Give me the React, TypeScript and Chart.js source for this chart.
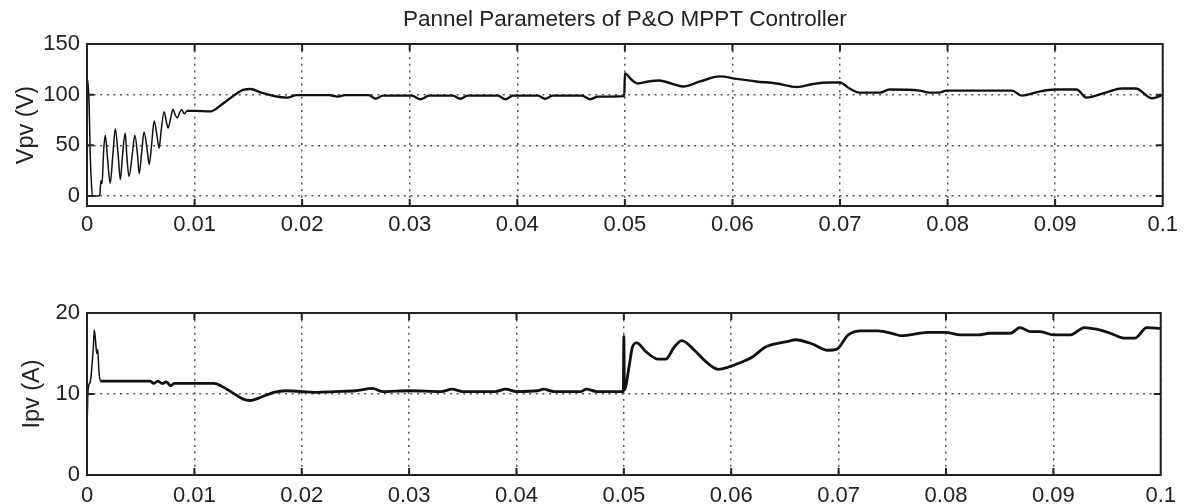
import React, { useEffect, useRef } from "react";
import { Chart, registerables } from "chart.js";

Chart.register(...registerables);

const FONT = "'Liberation Sans', Arial, Helvetica, sans-serif";
const titleText = "Pannel Parameters of P&O MPPT Controller";
const vLabel = "Vpv (V)";
const iLabel = "Ipv (A)";

const xTicks = [0, 0.01, 0.02, 0.03, 0.04, 0.05, 0.06, 0.07, 0.08, 0.09, 0.1];
const xTickLabels = ["0", "0.01", "0.02", "0.03", "0.04", "0.05", "0.06", "0.07", "0.08", "0.09", "0.1"];
const vTicks = [0, 50, 100, 150];
const iTicks = [0, 10, 20];

// Panel voltage (V) vs time (s)
const vTime = [
  0, 0.00005, 0.0002, 0.0003, 0.0004, 0.0005, 0.0011, 0.0012, 0.0013, 0.0014, 0.00155,
  0.0017, 0.0019, 0.00216, 0.0024, 0.00263, 0.0029, 0.0031, 0.0033, 0.00355, 0.0037,
  0.0039, 0.0042, 0.00445, 0.0047, 0.00485, 0.0051, 0.0053, 0.0056, 0.00578, 0.006,
  0.00624, 0.0065, 0.0067, 0.0069, 0.00717, 0.0074, 0.00754, 0.0078, 0.008, 0.0082,
  0.0084, 0.0086, 0.0088, 0.00905, 0.0093, 0.01, 0.0115, 0.0125, 0.0135, 0.0146,
  0.0152, 0.0162, 0.0174, 0.0186, 0.0195, 0.0225, 0.0233, 0.024, 0.0262, 0.0268,
  0.0275, 0.0302, 0.031, 0.0318, 0.034, 0.0347, 0.0354, 0.0382, 0.0389, 0.0396,
  0.0419, 0.0426, 0.0433, 0.046, 0.0468, 0.0475, 0.04995, 0.05, 0.0506, 0.0512,
  0.0522, 0.0532, 0.0543, 0.0554, 0.057, 0.0588, 0.0604, 0.0622, 0.0641, 0.066,
  0.0675, 0.069, 0.07, 0.0709, 0.0718, 0.0737, 0.0746, 0.0774, 0.0783, 0.0792,
  0.0799, 0.086, 0.0869, 0.0885, 0.09, 0.092, 0.0929, 0.0947, 0.0962, 0.0975,
  0.099, 0.1,
];
const vValues = [
  0, 115, 90, 40, 15, 0, 0, 2, 15, 12, 45,
  60, 38, 12.5, 40, 66, 40, 16, 40, 62, 40,
  19, 40, 60, 40, 22, 45, 63, 45, 31, 50,
  74, 60, 47, 65, 83, 72, 67, 78, 85.5, 80,
  77, 82, 85, 81, 84, 84, 83.5, 90, 98, 105,
  105.5, 102, 98.5, 97, 99.5, 99.5, 98, 99.5, 99.5, 96,
  99, 99, 95.5, 99, 99, 96, 99, 99, 95.5, 99,
  99, 96, 99, 99, 95.5, 98, 98.5, 121, 115, 111,
  113, 114, 111, 108, 113, 118, 115.5, 113, 111, 107.6,
  110.5, 112, 112, 106, 102, 102, 105, 104, 102, 102,
  104, 104, 99, 103, 105, 105, 97, 102, 106, 106,
  96.4, 99.7,
];

// Panel current (A) vs time (s)
const iTime = [
  0, 0.0001, 0.0003, 0.0006, 0.00068, 0.0008, 0.0009, 0.001, 0.0011, 0.00124,
  0.0059, 0.0062, 0.0066, 0.007, 0.0074, 0.0078, 0.0081, 0.0118, 0.0125, 0.0135,
  0.0145, 0.0152, 0.016, 0.0174, 0.0185, 0.0215, 0.023, 0.025, 0.0266, 0.0275,
  0.03, 0.033, 0.034, 0.035, 0.038, 0.039, 0.04, 0.042, 0.0425, 0.0435,
  0.046, 0.0465, 0.0475, 0.04995, 0.05, 0.05005, 0.0505, 0.0508, 0.0512, 0.052,
  0.0532, 0.0539, 0.0547, 0.0554, 0.0565, 0.0578, 0.0588, 0.0597, 0.0607, 0.0619,
  0.0632, 0.0653, 0.066, 0.0675, 0.069, 0.0698, 0.0709, 0.0721, 0.0737, 0.0752,
  0.0758, 0.0783, 0.0799, 0.0814, 0.083, 0.0841, 0.086, 0.0869, 0.0879, 0.0888,
  0.09, 0.0916, 0.0929, 0.094, 0.0953, 0.0966, 0.0976, 0.0987, 0.1,
];
const iValues = [
  5.5, 10.5, 11.5, 16, 17.9, 16.5, 15, 15.5, 13, 11.6,
  11.6, 11.3, 11.6, 11.3, 11.5, 11.0, 11.3, 11.3, 11.0, 10.2,
  9.4, 9.2, 9.5, 10.2, 10.4, 10.2, 10.3, 10.4, 10.7, 10.3,
  10.4, 10.3, 10.6, 10.3, 10.3, 10.6, 10.3, 10.4, 10.6, 10.3,
  10.3, 10.6, 10.3, 10.3, 17.1, 10.5, 13.5, 15.8, 16.3, 15.3,
  14.3, 14.3, 15.8, 16.6, 15.5, 13.8, 13.05, 13.3, 13.8, 14.5,
  15.8, 16.5, 16.7, 16.2, 15.4, 15.5, 17.3, 17.8, 17.8, 17.4,
  17.2, 17.6, 17.6, 17.3, 17.3, 17.5, 17.5, 18.2, 17.7, 17.7,
  17.3, 17.3, 18.2, 18.0, 17.5, 16.9, 16.9, 18.2, 18.1,
];

const framePlugin = {
  id: "matlabFrame",
  afterDatasetsDraw(chart: any) {
    const { ctx, chartArea } = chart;
    const { left, right, top, bottom } = chartArea;
    const xs = chart.scales.x;
    const ys = chart.scales.y;
    const len = 7;
    ctx.save();
    ctx.strokeStyle = "#222";
    ctx.lineWidth = 2;
    ctx.setLineDash([]);
    ctx.beginPath();
    xs.ticks.forEach((t: any) => {
      const px = xs.getPixelForValue(t.value);
      if (px <= left + 1 || px >= right - 1) return;
      ctx.moveTo(px, top);
      ctx.lineTo(px, top + len);
      ctx.moveTo(px, bottom);
      ctx.lineTo(px, bottom - len);
    });
    ys.ticks.forEach((t: any) => {
      const py = ys.getPixelForValue(t.value);
      if (py <= top + 1 || py >= bottom - 1) return;
      ctx.moveTo(left, py);
      ctx.lineTo(left + len, py);
      ctx.moveTo(right, py);
      ctx.lineTo(right - len, py);
    });
    ctx.stroke();
    ctx.strokeRect(left, top, right - left, bottom - top);
    ctx.restore();
  },
};

function makeConfig(
  times: number[],
  values: number[],
  yMin: number,
  yMax: number,
  yTicks: number[],
  yLabel: string,
  showTitle: boolean,
  opts: {
    padTop: number;
    xAxisHeight: number;
    yTitlePad: number;
    xTickPad: number;
    lineWidth: number;
    thinUntil: number;
  }
): any {
  const points = times.map((t, i) => ({ x: t, y: values[i] }));
  return {
    type: "scatter",
    data: {
      datasets: [
        {
          data: points,
          showLine: true,
          borderColor: "#111",
          borderWidth: opts.lineWidth,
          pointRadius: 0,
          cubicInterpolationMode: "monotone",
          fill: false,
          segment: {
            borderWidth: (ctx: any) => (ctx.p1.parsed.x <= opts.thinUntil ? 1.5 : opts.lineWidth),
          },
        },
      ],
    },
    options: {
      responsive: false,
      animation: false,
      layout: { padding: { top: opts.padTop, right: 20, bottom: 0, left: 0 } },
      plugins: {
        legend: { display: false },
        tooltip: { enabled: false },
        title: {
          display: showTitle,
          text: titleText,
          fullSize: false,
          color: "#222",
          font: { family: FONT, size: 22.5, weight: "normal" },
          padding: { top: 6.5, bottom: 10.5 },
        },
      },
      scales: {
        x: {
          type: "linear",
          min: 0,
          max: 0.1,
          afterBuildTicks: (scale: any) => {
            scale.ticks = xTicks.map((v) => ({ value: v }));
          },
          afterFit: (scale: any) => {
            scale.height = opts.xAxisHeight;
          },
          ticks: {
            color: "#222",
            font: { family: FONT, size: 22 },
            padding: opts.xTickPad,
            maxRotation: 0,
            autoSkip: false,
            callback: (_v: any, i: number) => xTickLabels[i],
          },
          grid: { color: "#555", lineWidth: 1.5, drawTicks: false },
          border: { display: false, dash: [2, 4.6] },
        },
        y: {
          type: "linear",
          min: yMin,
          max: yMax,
          afterBuildTicks: (scale: any) => {
            scale.ticks = yTicks.map((v) => ({ value: v }));
          },
          afterFit: (scale: any) => {
            scale.width = 87;
          },
          ticks: {
            color: "#222",
            font: { family: FONT, size: 22 },
            padding: 7,
            autoSkip: false,
            callback: (v: any) => String(v),
          },
          grid: { color: "#555", lineWidth: 1.5, drawTicks: false },
          border: { display: false, dash: [2, 4.6] },
          title: {
            display: true,
            text: yLabel,
            color: "#222",
            font: { family: FONT, size: 23.5 },
            padding: { top: opts.yTitlePad, bottom: 0 },
          },
        },
      },
    },
    plugins: [framePlugin],
  };
}

export default function App() {
  const topRef = useRef<HTMLCanvasElement | null>(null);
  const botRef = useRef<HTMLCanvasElement | null>(null);

  useEffect(() => {
    const c1 = new Chart(
      topRef.current as HTMLCanvasElement,
      makeConfig(vTime, vValues, -10, 150, vTicks, vLabel, true, {
        padTop: 0,
        xAxisHeight: 44,
        yTitlePad: 12,
        xTickPad: 6,
        lineWidth: 2.4,
        thinUntil: 0.0095,
      })
    );
    const c2 = new Chart(
      botRef.current as HTMLCanvasElement,
      makeConfig(iTime, iValues, 0, 20, iTicks, iLabel, false, {
        padTop: 63,
        xAxisHeight: 29,
        yTitlePad: 18,
        xTickPad: 8,
        lineWidth: 2.8,
        thinUntil: 0.0013,
      })
    );
    return () => {
      c1.destroy();
      c2.destroy();
    };
  }, []);

  return (
    <div style={{ position: "absolute", left: 0, top: 0, width: 1184, height: 504, background: "#fff", overflow: "hidden" }}>
      <canvas ref={topRef} width={1184} height={250} style={{ position: "absolute", left: 0, top: 0 }} />
      <canvas ref={botRef} width={1184} height={254} style={{ position: "absolute", left: 0, top: 250 }} />
    </div>
  );
}
